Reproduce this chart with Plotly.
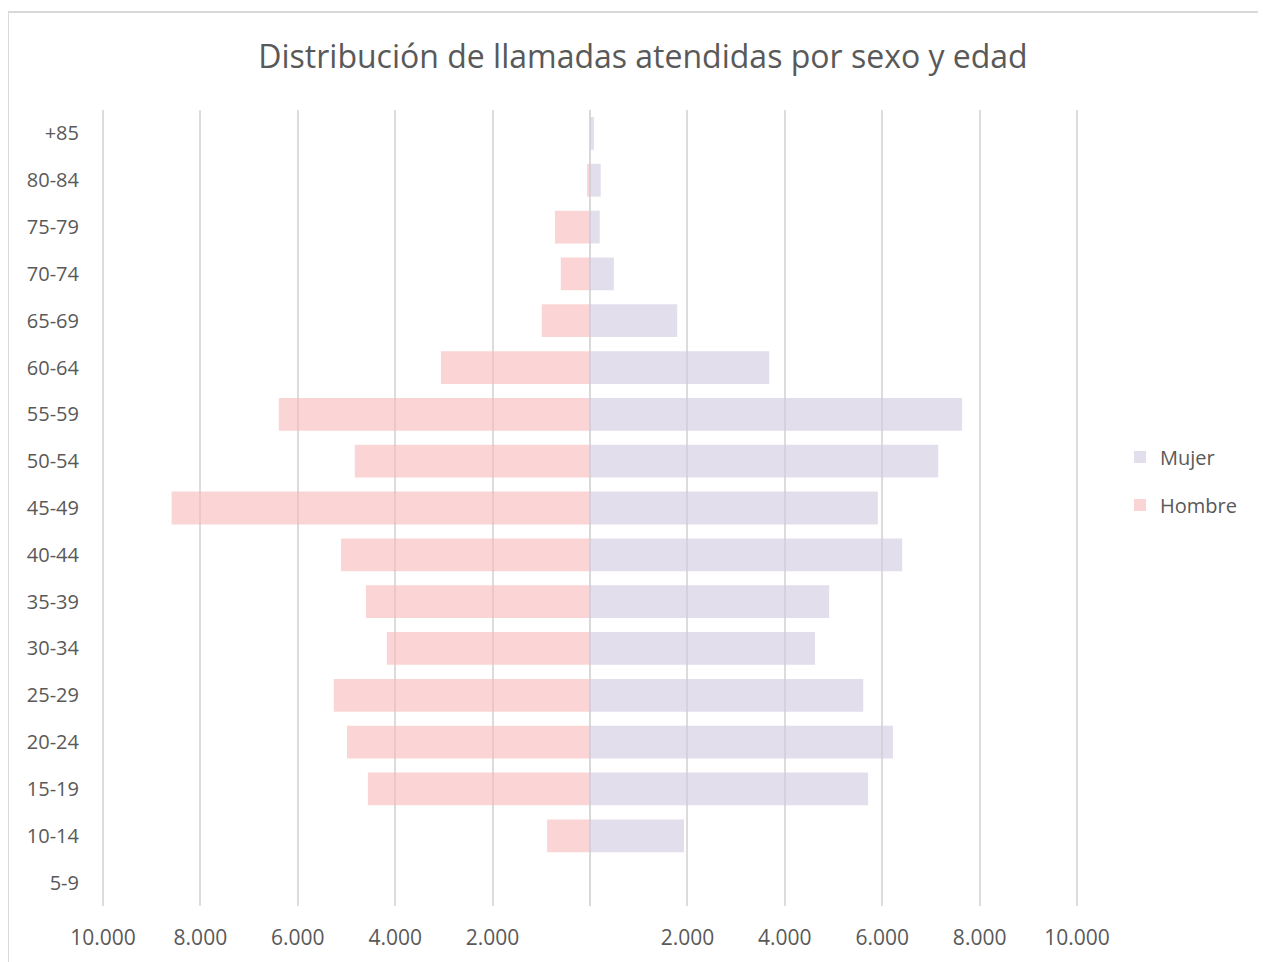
import plotly.graph_objects as go

edades = ["5-9", "10-14", "15-19", "20-24", "25-29", "30-34", "35-39", "40-44",
          "45-49", "50-54", "55-59", "60-64", "65-69", "70-74", "75-79", "80-84", "+85"]
mujer = [0, 1930, 5710, 6220, 5610, 4620, 4910, 6410,
         5910, 7150, 7640, 3680, 1790, 490, 200, 220, 80]
hombre = [0, 880, 4560, 4990, 5260, 4170, 4600, 5110,
          8590, 4830, 6390, 3060, 990, 600, 720, 60, 0]
tick_vals = [-10000, -8000, -6000, -4000, -2000, 0, 2000, 4000, 6000, 8000, 10000]
tick_text = ["10.000", "8.000", "6.000", "4.000", "2.000", "", "2.000", "4.000", "6.000", "8.000", "10.000"]

# page has an 8px body margin; figure coords = page coords - 8
OFF = 8
W, H = 1266 - OFF, 962 - OFF
XR = 10040
L = 103 - OFF - 2
R = W - (1077 - OFF + 2)
T = 110 - OFF
B = H - (906 - OFF)
pw, ph = W - L - R, H - T - B


def px_x(xp):  # page x -> paper
    return (xp - OFF - L) / pw


def px_y(yp):  # page y -> paper
    return (H - B - (yp - OFF)) / ph


fig = go.Figure()
fig.add_trace(go.Bar(
    y=edades, x=mujer, name="Mujer", orientation="h",
    marker=dict(color="rgba(210,202,223,0.62)", line=dict(width=0)),
    legendgroup="m",
))
fig.add_trace(go.Bar(
    y=edades, x=[-v for v in hombre], name="Hombre", orientation="h",
    marker=dict(color="rgba(248,185,185,0.6)", line=dict(width=0)),
    customdata=hombre, hovertemplate="%{y}: %{customdata}<extra>Hombre</extra>",
    legendgroup="h",
))

fig.update_layout(
    width=W, height=H,
    margin=dict(l=L, r=R, t=T, b=B, autoexpand=False),
    paper_bgcolor="white", plot_bgcolor="white",
    font=dict(family="Open Sans", color="#595959", size=20),
    title=dict(text="Distribución de llamadas atendidas por sexo y edad",
               x=(643 - OFF) / W, xanchor="center", y=1 - (57 - OFF) / H, yanchor="middle",
               font=dict(size=32, color="#595959")),
    barmode="overlay", bargap=0.3,
    showlegend=True,
    legend=dict(x=px_x(1120), xanchor="left", y=px_y(481), yanchor="middle",
                traceorder="grouped", tracegroupgap=19,
                font=dict(size=20, color="#595959"), itemwidth=30),
    xaxis=dict(range=[-XR, XR], tickvals=tick_vals, ticktext=tick_text,
               showgrid=True, gridcolor="#DCDCDC", gridwidth=1.5,
               zeroline=True, zerolinecolor="#D9D9D9", zerolinewidth=2,
               showline=False, ticks="", ticklabelstandoff=17,
               tickfont=dict(size=21, color="#595959"), fixedrange=True),
    yaxis=dict(categoryorder="array", categoryarray=edades,
               showgrid=False, showline=False, ticks="", ticklabelstandoff=21,
               tickfont=dict(size=20, color="#595959")),
    shapes=[
        dict(type="line", xref="paper", yref="paper",
             x0=px_x(8), x1=px_x(1300), y0=px_y(12), y1=px_y(12),
             line=dict(color="#D9D9D9", width=2)),
        dict(type="line", xref="paper", yref="paper",
             x0=px_x(8), x1=px_x(8), y0=px_y(12), y1=px_y(1000),
             line=dict(color="#D9D9D9", width=2)),
    ],
)

fig.write_html("out.html")
